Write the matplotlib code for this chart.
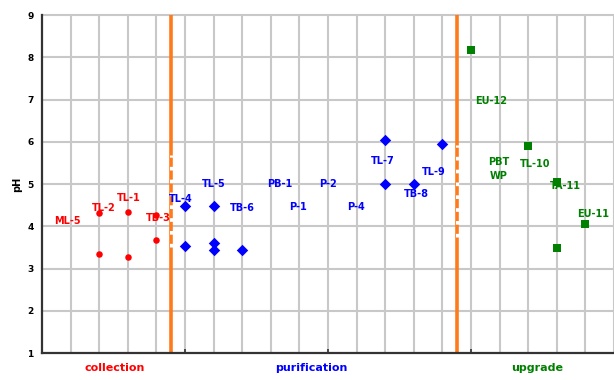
import matplotlib
matplotlib.use("Agg")
import matplotlib.pyplot as plt

# Sample positions (stage index) and measured pH
collection_x = [2, 2, 3, 3, 4, 4]
collection_ph = [4.31, 3.34, 4.33, 3.28, 4.27, 3.67]

purification_x = [5, 5, 6, 6, 6, 7, 12, 12, 13, 14]
purification_ph = [4.49, 3.54, 4.49, 3.60, 3.44, 3.43, 6.03, 5.00, 5.01, 5.94]

upgrade_x = [15, 17, 18, 19, 18]
upgrade_ph = [8.17, 5.90, 5.05, 4.05, 3.48]

stage_names = ["collection", "purification", "upgrade"]
stage_centers = [2.55, 9.4, 17.3]
stage_colors = ["#ff0000", "#0000ff", "#008000"]
stage_bounds = [4.5, 14.5]

yticks = [1, 2, 3, 4, 5, 6, 7, 8, 9]

# Sample name annotations: (text, x, y, colour)
annotations = [
    ("ML-5", 0.9, 4.12, "#ff0000"),
    ("TL-2", 2.15, 4.43, "#ff0000"),
    ("TL-1", 3.05, 4.67, "#ff0000"),
    ("TB-3", 4.05, 4.19, "#ff0000"),
    ("TL-4", 4.85, 4.64, "#0000ff"),
    ("TL-5", 6.0, 5.0, "#0000ff"),
    ("TB-6", 7.0, 4.43, "#0000ff"),
    ("PB-1", 8.3, 5.0, "#0000ff"),
    ("P-1", 8.95, 4.46, "#0000ff"),
    ("P-2", 10.0, 5.0, "#0000ff"),
    ("P-4", 10.97, 4.46, "#0000ff"),
    ("TL-7", 11.9, 5.55, "#0000ff"),
    ("TB-8", 13.1, 4.76, "#0000ff"),
    ("TL-9", 13.7, 5.28, "#0000ff"),
    ("EU-12", 15.7, 6.97, "#008000"),
    ("PBT", 15.96, 5.52, "#008000"),
    ("WP", 15.96, 5.19, "#008000"),
    ("TL-10", 17.25, 5.47, "#008000"),
    ("TA-11", 18.3, 4.96, "#008000"),
    ("EU-11", 19.27, 4.28, "#008000"),
]

fig = plt.figure(figsize=(6.14, 3.80), dpi=100)
ax = fig.add_axes([0.0684, 0.071, 0.9316, 0.8895])

ax.set_xlim(0, 20)
ax.set_ylim(1, 9)

# grid
for gx in range(1, 21):
    ax.axvline(gx, color="#c8c8c8", lw=1.5, zorder=0)
for gy in yticks[1:]:
    ax.axhline(gy, color="#c8c8c8", lw=1.5, zorder=0, clip_on=False)

# stage separators
for b in stage_bounds:
    ax.axvline(b, color="#ff7a1a", lw=2.6, zorder=2)
ax.plot([stage_bounds[0]] * 2, [3.51, 5.69], color="white", lw=2.2,
        dashes=(1.2, 3.0), zorder=3)
ax.plot([stage_bounds[1]] * 2, [3.75, 5.92], color="white", lw=2.2,
        dashes=(1.2, 3.0), zorder=3)

ax.scatter(collection_x, collection_ph, marker="o", s=22, color=stage_colors[0],
           zorder=4, linewidths=0)
ax.scatter(purification_x, purification_ph, marker="D", s=34, color=stage_colors[1],
           zorder=4, linewidths=0)
ax.scatter(upgrade_x, upgrade_ph, marker="s", s=36, color=stage_colors[2],
           zorder=4, linewidths=0)

for txt, x, y, c in annotations:
    ax.text(x, y, txt, color=c, fontsize=7, fontweight="bold",
            ha="center", va="center", zorder=5)

# axes styling
for side in ["top", "right"]:
    ax.spines[side].set_visible(False)
for side in ["left", "bottom"]:
    ax.spines[side].set_color("#333333")
    ax.spines[side].set_linewidth(1.6)

ax.set_yticks(yticks)
ax.set_yticklabels([str(v) for v in yticks], fontsize=6.5, fontweight="bold")
ax.tick_params(axis="y", length=0, pad=6)
ax.set_xticks([5, 10, 15])
ax.set_xticklabels([])
ax.tick_params(axis="x", direction="in", length=3, width=1.2, color="#333333")

ax.set_ylabel("pH", fontsize=7, fontweight="bold", labelpad=4)

for name, cx, c in zip(stage_names, stage_centers, stage_colors):
    ax.text(cx, -0.03, name, transform=ax.get_xaxis_transform(), color=c,
            fontsize=8, fontweight="bold", ha="center", va="top")

fig.savefig("out.png", dpi=100)
